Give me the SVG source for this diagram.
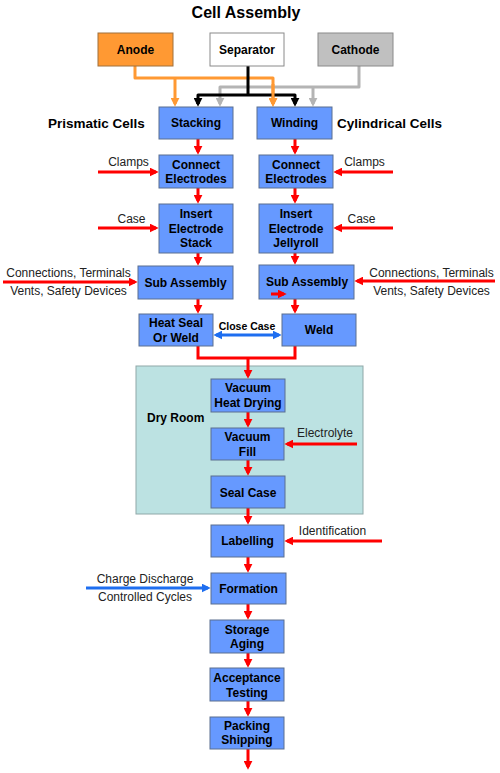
<svg xmlns="http://www.w3.org/2000/svg" width="500" height="773" viewBox="0 0 500 773">
<style>
.bx{fill:#6699FF;stroke:#5a6f90;stroke-width:1}
.t{font-family:"Liberation Sans",Arial,sans-serif;font-weight:bold;font-size:12px;fill:#000;text-anchor:middle}
.l{font-family:"Liberation Sans",Arial,sans-serif;font-size:12px;fill:#222;text-anchor:middle}
.h{font-family:"Liberation Sans",Arial,sans-serif;font-weight:bold;font-size:13.5px;fill:#000}
.r{fill:none;stroke:#FF0000;stroke-width:3}
.bl{fill:none;stroke:#1E6EF0;stroke-width:3}
.o{fill:none;stroke:#FF9933;stroke-width:3;stroke-linejoin:round}
.k{fill:none;stroke:#000;stroke-width:3;stroke-linejoin:round}
.g{fill:none;stroke:#B4B4B4;stroke-width:3;stroke-linejoin:round}
</style>
<defs>
<marker id="ar" viewBox="0 0 10 10" markerWidth="9" markerHeight="9" refX="7" refY="5" orient="auto" markerUnits="userSpaceOnUse"><path d="M0,0 L10,5 L0,10 z" fill="#FF0000"/></marker>
<marker id="ab" viewBox="0 0 10 10" markerWidth="9" markerHeight="9" refX="7" refY="5" orient="auto-start-reverse" markerUnits="userSpaceOnUse"><path d="M0,0 L10,5 L0,10 z" fill="#1E6EF0"/></marker>
<marker id="ao" viewBox="0 0 10 10" markerWidth="9" markerHeight="9" refX="7" refY="5" orient="auto" markerUnits="userSpaceOnUse"><path d="M0,0 L10,5 L0,10 z" fill="#FF9933"/></marker>
<marker id="ak" viewBox="0 0 10 10" markerWidth="9" markerHeight="9" refX="7" refY="5" orient="auto" markerUnits="userSpaceOnUse"><path d="M0,0 L10,5 L0,10 z" fill="#000"/></marker>
<marker id="ag" viewBox="0 0 10 10" markerWidth="9" markerHeight="9" refX="7" refY="5" orient="auto" markerUnits="userSpaceOnUse"><path d="M0,0 L10,5 L0,10 z" fill="#B4B4B4"/></marker>
</defs>
<rect width="500" height="773" fill="#fff"/>
<text x="246" y="18" style="font-family:'Liberation Sans',Arial,sans-serif;font-weight:bold;font-size:16px" text-anchor="middle">Cell Assembly</text>

<g id="dryroom"><rect x="136" y="366" width="227" height="148" fill="#BCE2E2" stroke="#8FA8A8" stroke-width="1"/><text x="147" y="422" style="font-family:'Liberation Sans',Arial,sans-serif;font-weight:bold;font-size:12px">Dry Room</text></g>

<g id="connectors">
<path class="g" d="M359,66 V87 H220 V104" marker-end="url(#ag)"/>
<path class="g" d="M313,87 V104" marker-end="url(#ag)"/>
<path class="o" d="M135,66 V78 H273 V104" marker-end="url(#ao)"/>
<path class="o" d="M175,78 V104" marker-end="url(#ao)"/>
<path class="k" d="M248,66 V95"/>
<path class="k" d="M198,104 V95 H295 V104" marker-end="url(#ak)"/>
<path class="k" d="M198,98 V104" marker-end="url(#ak)"/>
<path class="o" d="M273,84 V104" marker-end="url(#ao)"/>

<path class="r" d="M198,139 V152" marker-end="url(#ar)"/>
<path class="r" d="M295,139 V152" marker-end="url(#ar)"/>
<path class="r" d="M198,188 V201" marker-end="url(#ar)"/>
<path class="r" d="M295,188 V201" marker-end="url(#ar)"/>
<path class="r" d="M198,253 V263" marker-end="url(#ar)"/>
<path class="r" d="M295,253 V262" marker-end="url(#ar)"/>
<path class="r" d="M198,299 V311" marker-end="url(#ar)"/>
<path class="r" d="M295,299 V311" marker-end="url(#ar)"/>
<path class="r" d="M198,346 V358 H295 V346"/>
<path class="r" d="M248,358 V376" marker-end="url(#ar)"/>
<path class="r" d="M248,412 V425" marker-end="url(#ar)"/>
<path class="r" d="M248,460 V473" marker-end="url(#ar)"/>
<path class="r" d="M248,508 V522" marker-end="url(#ar)"/>
<path class="r" d="M248,557 V570" marker-end="url(#ar)"/>
<path class="r" d="M248,604 V617" marker-end="url(#ar)"/>
<path class="r" d="M248,653 V665" marker-end="url(#ar)"/>
<path class="r" d="M248,701 V714" marker-end="url(#ar)"/>
<path class="r" d="M248,749 V767" marker-end="url(#ar)"/>

<path class="r" d="M98,172 H156" marker-end="url(#ar)"/>
<path class="r" d="M393,172 H336" marker-end="url(#ar)"/>
<path class="r" d="M98,228 H156" marker-end="url(#ar)"/>
<path class="r" d="M393,228 H336" marker-end="url(#ar)"/>
<path class="r" d="M3,282 H135" marker-end="url(#ar)"/>
<path class="r" d="M495,281 H357" marker-end="url(#ar)"/>
<path class="r" d="M357,444 H287" marker-end="url(#ar)"/>
<path class="r" d="M382,541 H287" marker-end="url(#ar)"/>
<path class="bl" d="M86,588 H208" marker-end="url(#ab)"/>
<path class="bl" d="M216,335 H279" marker-start="url(#ab)" marker-end="url(#ab)"/>

<text class="l" x="128.5" y="166">Clamps</text>
<text class="l" x="364.5" y="166">Clamps</text>
<text class="l" x="131.5" y="223">Case</text>
<text class="l" x="361.5" y="223">Case</text>
<text class="l" x="68.5" y="277">Connections, Terminals</text>
<text class="l" x="68.5" y="295">Vents, Safety Devices</text>
<text class="l" x="431.5" y="277">Connections, Terminals</text>
<text class="l" x="431.5" y="295">Vents, Safety Devices</text>
<text class="t" x="247" y="330" style="font-size:10.5px">Close Case</text>
<text class="l" x="325" y="437">Electrolyte</text>
<text class="l" x="332.5" y="535">Identification</text>
<text class="l" x="145" y="583">Charge Discharge</text>
<text class="l" x="145" y="601">Controlled Cycles</text>
</g>

<g id="anode"><rect x="98" y="33" width="75" height="33" fill="#FF9933" stroke="#A0703C"/><text class="t" x="135.5" y="54">Anode</text></g>
<g id="separator"><rect x="210" y="33" width="74" height="33" fill="#FFFFFF" stroke="#8A8A8A"/><text class="t" x="247" y="54">Separator</text></g>
<g id="cathode"><rect x="318" y="33" width="75" height="33" fill="#C0C0C0" stroke="#8A8A8A"/><text class="t" x="355.5" y="54">Cathode</text></g>

<text class="h" x="48" y="128">Prismatic Cells</text>
<text class="h" x="337" y="128">Cylindrical Cells</text>

<g id="stacking"><rect class="bx" x="159" y="107" width="74" height="32"/><text class="t" x="196" y="127">Stacking</text></g>
<g id="winding"><rect class="bx" x="257" y="107" width="75" height="32"/><text class="t" x="294.5" y="127">Winding</text></g>
<g id="connect-left"><rect class="bx" x="159" y="155" width="74" height="33"/><text class="t" x="196" y="169">Connect</text><text class="t" x="196" y="183">Electrodes</text></g>
<g id="connect-right"><rect class="bx" x="259" y="155" width="74" height="33"/><text class="t" x="296" y="169">Connect</text><text class="t" x="296" y="183">Electrodes</text></g>
<g id="insert-left"><rect class="bx" x="159" y="204" width="74" height="49"/><text class="t" x="196" y="218">Insert</text><text class="t" x="196" y="233">Electrode</text><text class="t" x="196" y="247">Stack</text></g>
<g id="insert-right"><rect class="bx" x="259" y="204" width="74" height="49"/><text class="t" x="296" y="218">Insert</text><text class="t" x="296" y="233">Electrode</text><text class="t" x="296" y="247">Jellyroll</text></g>
<g id="sub-left"><rect class="bx" x="138" y="266" width="95" height="33"/><text class="t" x="185.5" y="287">Sub Assembly</text></g>
<g id="sub-right"><rect class="bx" x="259" y="265" width="95" height="34"/><text class="t" x="307" y="286">Sub Assembly</text><path class="r" d="M271,294 H284" marker-end="url(#ar)"/></g>
<g id="heatseal"><rect class="bx" x="139" y="314" width="74" height="32"/><text class="t" x="176" y="327">Heat Seal</text><text class="t" x="176" y="342">Or Weld</text></g>
<g id="weld"><rect class="bx" x="282" y="314" width="74" height="32"/><text class="t" x="319" y="334">Weld</text></g>
<g id="vhd"><rect class="bx" x="211" y="379" width="74" height="33"/><text class="t" x="248" y="392">Vacuum</text><text class="t" x="248" y="407">Heat Drying</text></g>
<g id="vfill"><rect class="bx" x="211" y="428" width="73" height="32"/><text class="t" x="247.5" y="441">Vacuum</text><text class="t" x="247.5" y="456">Fill</text></g>
<g id="sealcase"><rect class="bx" x="211" y="476" width="74" height="32"/><text class="t" x="248" y="497">Seal Case</text></g>
<g id="labelling"><rect class="bx" x="211" y="525" width="73" height="32"/><text class="t" x="247.5" y="545">Labelling</text></g>
<g id="formation"><rect class="bx" x="211" y="573" width="75" height="31"/><text class="t" x="248.5" y="593">Formation</text></g>
<g id="storage"><rect class="bx" x="210" y="620" width="74" height="33"/><text class="t" x="247" y="634">Storage</text><text class="t" x="247" y="648">Aging</text></g>
<g id="acceptance"><rect class="bx" x="210" y="668" width="74" height="33"/><text class="t" x="247" y="682">Acceptance</text><text class="t" x="247" y="697">Testing</text></g>
<g id="packing"><rect class="bx" x="210" y="717" width="74" height="32"/><text class="t" x="247" y="730">Packing</text><text class="t" x="247" y="744">Shipping</text></g>
</svg>
